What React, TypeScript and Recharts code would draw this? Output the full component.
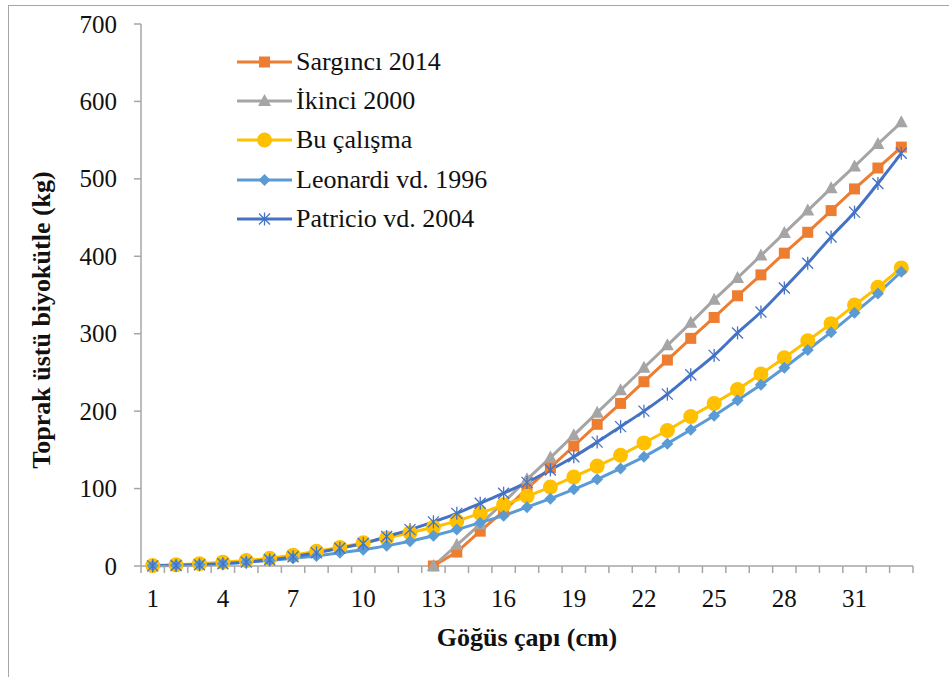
import React from "react"
import { LineChart, Line, XAxis, YAxis } from "recharts"

const diameters = [
  1, 2, 3, 4, 5, 6, 7, 8, 9, 10, 11, 12, 13, 14, 15, 16, 17, 18, 19, 20, 21, 22, 23, 24, 25, 26, 27, 28, 29, 30, 31, 32, 33,
]

const sarginci = [
  null, null, null, null, null, null, null, null, null, null, null, null,
  0, 18, 45, 71, 100, 127, 155, 183, 210, 238, 266, 294, 321, 349, 376, 404, 431, 459, 487, 514, 541,
]

const ikinci = [
  null, null, null, null, null, null, null, null, null, null, null, null,
  0, 27, 54, 82, 112, 140, 169, 198, 227, 256, 285, 314, 344, 372, 401, 430, 459, 488, 516, 545, 573,
]

const buCalisma = [
  0.5, 1.5, 3, 5, 7, 10, 14, 19, 24, 30, 36, 43, 50, 58, 68, 79, 90, 102, 115, 129, 143, 159, 175, 193, 210, 228, 248,
  269, 291, 313, 337, 360, 385,
]

const leonardi = [
  0.3, 1, 2, 3, 5, 7, 10, 13, 17, 21, 26, 32, 39, 47, 56, 65, 76, 87, 99, 112, 126, 141, 158, 176, 194, 214, 234, 256,
  279, 302, 327, 352, 380,
]

const patricio = [
  0.2, 0.7, 1.5, 3, 5, 8, 12, 17, 23, 29, 38, 47, 57, 68, 81, 94, 108, 124, 141, 160, 180, 200, 222, 247, 272, 301, 328,
  359, 391, 425, 457, 494, 533,
]

const yTicks = [0, 100, 200, 300, 400, 500, 600, 700]

const data = diameters.map((d, i) => ({
  d,
  sarginci: sarginci[i],
  ikinci: ikinci[i],
  bu: buCalisma[i],
  leonardi: leonardi[i],
  patricio: patricio[i],
}))

const FONT = '"Liberation Serif", "DejaVu Serif", serif'
const AXIS = "#a6a6a6"
const PLOT_W = 772
const HALF = PLOT_W / 66

type Shape = "square" | "triangle" | "circle" | "diamond" | "star"

function Marker({ shape, cx, cy, color }: { shape: Shape; cx: number; cy: number; color: string }) {
  if (shape === "square") return <rect x={cx - 5.5} y={cy - 5.5} width={11} height={11} fill={color} />
  if (shape === "triangle")
    return <polygon points={`${cx},${cy - 7} ${cx - 6.5},${cy + 5} ${cx + 6.5},${cy + 5}`} fill={color} />
  if (shape === "circle") return <circle cx={cx} cy={cy} r={7.5} fill={color} />
  if (shape === "diamond")
    return <polygon points={`${cx},${cy - 6} ${cx + 6},${cy} ${cx},${cy + 6} ${cx - 6},${cy}`} fill={color} />
  return (
    <g stroke={color} strokeWidth={1.3}>
      <line x1={cx - 5.5} y1={cy - 5.5} x2={cx + 5.5} y2={cy + 5.5} />
      <line x1={cx - 5.5} y1={cy + 5.5} x2={cx + 5.5} y2={cy - 5.5} />
      <line x1={cx} y1={cy - 6.5} x2={cx} y2={cy + 6.5} />
    </g>
  )
}

const series = [
  { key: "sarginci", name: "Sargıncı 2014", color: "#ed7d31", shape: "square" as Shape, type: "linear" },
  { key: "ikinci", name: "İkinci 2000", color: "#a5a5a5", shape: "triangle" as Shape, type: "linear" },
  { key: "bu", name: "Bu çalışma", color: "#ffc000", shape: "circle" as Shape, type: "linear" },
  { key: "leonardi", name: "Leonardi vd. 1996", color: "#5b9bd5", shape: "diamond" as Shape, type: "linear" },
  { key: "patricio", name: "Patricio vd. 2004", color: "#4472c4", shape: "star" as Shape, type: "monotone" },
]

function makeDot(shape: Shape, color: string) {
  return (props: any) => {
    const { cx, cy, index, value } = props
    if (value == null || cy == null || isNaN(cy)) return <g key={index} />
    return (
      <g key={index}>
        <Marker shape={shape} cx={cx} cy={cy} color={color} />
      </g>
    )
  }
}

function XTick(props: any) {
  const { x, y, payload, index } = props
  const showLabel = index % 3 === 0
  const isLast = index === diameters.length - 1
  return (
    <g>
      <line x1={x - HALF} y1={y} x2={x - HALF} y2={y + 7} stroke={AXIS} strokeWidth={1.5} />
      {isLast && <line x1={x + HALF} y1={y} x2={x + HALF} y2={y + 7} stroke={AXIS} strokeWidth={1.5} />}
      {showLabel && (
        <text
          x={x}
          y={y + 41}
          textAnchor="middle"
          style={{ fontSize: 25, fontFamily: FONT, fontWeight: 400 }}
          fill="#111"
        >
          {payload.value}
        </text>
      )}
    </g>
  )
}

function YTick(props: any) {
  const { x, y, payload } = props
  return (
    <text x={x} y={y + 8.5} textAnchor="end" style={{ fontSize: 25, fontFamily: FONT, fontWeight: 400 }} fill="#111">
      {payload.value}
    </text>
  )
}

function LegendBox() {
  return (
    <div
      style={{
        position: "absolute",
        left: 237,
        top: 42,
        fontFamily: FONT,
        fontSize: 26,
        fontWeight: 400,
        color: "#111",
      }}
    >
      {series.map((s) => (
        <div key={s.key} style={{ display: "flex", alignItems: "center", height: 39.3, whiteSpace: "nowrap" }}>
          <svg width={59} height={20} style={{ flex: "none" }}>
            <line x1={0} y1={10} x2={55} y2={10} stroke={s.color} strokeWidth={3} />
            <Marker shape={s.shape} cx={27.5} cy={10} color={s.color} />
          </svg>
          <span>{s.name}</span>
        </div>
      ))}
    </div>
  )
}

export default function App() {
  return (
    <div style={{ position: "absolute", left: 0, top: 0, width: 949, height: 677, background: "#fff" }}>
      <div
        style={{
          position: "absolute",
          left: 8,
          top: 5,
          width: 941,
          height: 672,
          borderLeft: `1px solid ${AXIS}`,
          borderTop: `1px solid ${AXIS}`,
          boxSizing: "border-box",
        }}
      />
      <LineChart
        width={949}
        height={677}
        data={data}
        margin={{ top: 24, right: 36, bottom: 71, left: 81 }}
        style={{ position: "absolute", left: 0, top: 0 }}
      >
        <XAxis
          dataKey="d"
          interval={0}
          padding={{ left: HALF, right: HALF }}
          height={40}
          tickSize={0}
          tickMargin={0}
          tickLine={false}
          axisLine={{ stroke: AXIS, strokeWidth: 1.5 }}
          tick={<XTick />}
        />
        <YAxis
          width={60}
          domain={[0, 700]}
          ticks={yTicks}
          interval={0}
          tickSize={7}
          tickMargin={17}
          axisLine={{ stroke: AXIS, strokeWidth: 1.5 }}
          tickLine={{ stroke: AXIS, strokeWidth: 1.5 }}
          tick={<YTick />}
        />
        {series.map((s) => (
          <Line
            key={s.key}
            dataKey={s.key}
            name={s.name}
            type={s.type as any}
            stroke={s.color}
            strokeWidth={3}
            dot={makeDot(s.shape, s.color)}
            activeDot={false}
            isAnimationActive={false}
          />
        ))}
      </LineChart>
      <LegendBox />
      <div
        style={{
          position: "absolute",
          left: 42,
          top: 320,
          transform: "translate(-50%, -50%) rotate(-90deg)",
          fontFamily: FONT,
          fontWeight: "bold",
          fontSize: 26,
          whiteSpace: "nowrap",
          color: "#111",
        }}
      >
        Toprak üstü biyokütle (kg)
      </div>
      <div
        style={{
          position: "absolute",
          left: 527,
          top: 638,
          transform: "translate(-50%, -50%)",
          fontFamily: FONT,
          fontWeight: "bold",
          fontSize: 26,
          whiteSpace: "nowrap",
          color: "#111",
        }}
      >
        Göğüs çapı (cm)
      </div>
    </div>
  )
}
